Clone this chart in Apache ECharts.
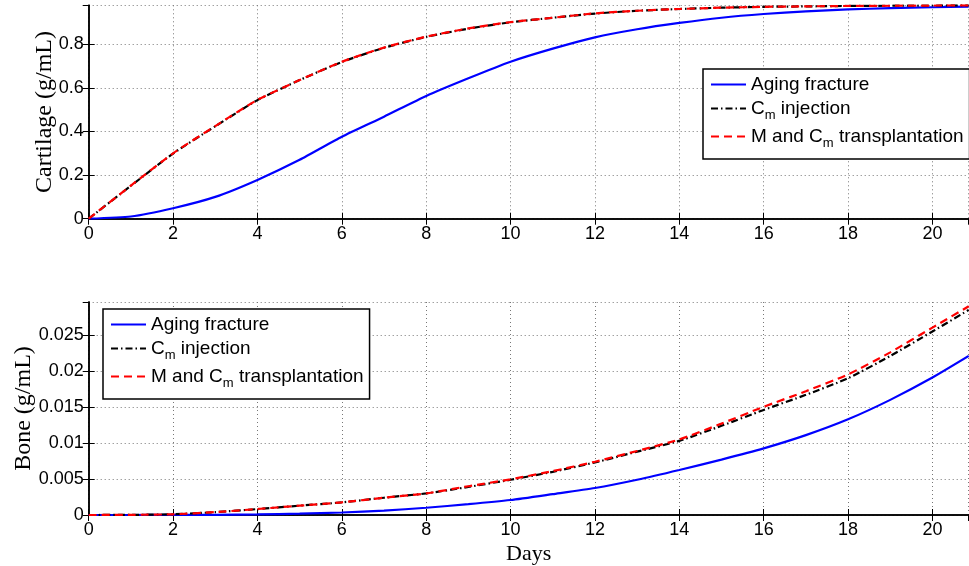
<!DOCTYPE html>
<html>
<head>
<meta charset="utf-8">
<script src="https://cdn.jsdelivr.net/npm/echarts@6/dist/echarts.min.js"></script>
<style>html,body{margin:0;padding:0;background:#fff}#c{width:969px;height:566px}</style>
</head>
<body>
<div id="c"></div>
<script>
var seriesNames = ['Aging fracture', 'Cm injection', 'M and Cm transplantation'];
var days = [0, 1, 2, 3, 4, 5, 6, 7, 8, 9, 10, 11, 12, 13, 14, 15, 16, 17, 18, 19, 20, 20.86];
var cartAging = [0, 0.01, 0.048, 0.10, 0.178, 0.27, 0.376, 0.468, 0.563, 0.644, 0.72, 0.78, 0.832, 0.869, 0.898, 0.922, 0.939, 0.951, 0.96, 0.966, 0.97, 0.973];
var cartInj = [0, 0.151, 0.299, 0.424, 0.544, 0.636, 0.719, 0.784, 0.834, 0.872, 0.901, 0.922, 0.941, 0.954, 0.962, 0.968, 0.972, 0.974, 0.976, 0.977, 0.978, 0.979];
var cartTrans = [0, 0.152, 0.30, 0.425, 0.545, 0.636, 0.72, 0.785, 0.835, 0.873, 0.902, 0.922, 0.942, 0.954, 0.962, 0.968, 0.972, 0.974, 0.976, 0.977, 0.978, 0.979];
var boneAging = [0, 0, 0.00001, 0.00003, 0.00008, 0.00018, 0.00035, 0.0006, 0.00101, 0.0015, 0.00208, 0.0029, 0.00375, 0.0049, 0.00625, 0.0077, 0.00926, 0.0111, 0.0133, 0.016, 0.0191, 0.0221];
var boneInj = [0, 0.00002, 0.0001, 0.0004, 0.00082, 0.0013, 0.00175, 0.0024, 0.0030, 0.0039, 0.0049, 0.006, 0.0073, 0.0088, 0.0103, 0.0124, 0.0146, 0.0167, 0.019, 0.0221, 0.0255, 0.0285];
var boneTrans = [0, 0.00002, 0.0001, 0.0004, 0.00083, 0.0013, 0.00176, 0.0024, 0.0030, 0.0040, 0.00496, 0.0061, 0.0074, 0.0089, 0.0105, 0.0127, 0.01504, 0.0172, 0.01954, 0.0226, 0.02604, 0.0290];
var xTicks = [0, 2, 4, 6, 8, 10, 12, 14, 16, 18, 20];
var cartTicks = [0, 0.2, 0.4, 0.6, 0.8];
var boneTicks = [0, 0.005, 0.01, 0.015, 0.02, 0.025];

var XMAX = 20.86, CMAX = 0.979, BMAX = 0.0296;
var sans = 'Liberation Sans', serif = 'Liberation Serif';

function pairs(v) { return days.map(function (d, i) { return [d, v[i]]; }); }

var frame = {show: true, lineStyle: {color: '#000', width: 1.5}};
var grid = {show: true, lineStyle: {color: '#777', width: 1, type: [1, 3]}};
function xAx(gi, pos, main, name) {
  return {
    type: 'value', gridIndex: gi, position: pos, min: 0, max: XMAX, interval: 2,
    axisLine: frame, axisTick: {show: true, inside: true, length: 6, lineStyle: {color: '#000', width: 1}},
    axisLabel: {show: main, color: '#000', fontFamily: sans, fontSize: 18, margin: 6, showMaxLabel: false,
      formatter: function (v) { return xTicks.indexOf(v) >= 0 ? String(v) : ''; }},
    splitLine: main ? grid : {show: false},
    name: name || '', nameLocation: 'middle', nameGap: 28, nameMoveOverlap: false,
    nameTextStyle: {fontFamily: serif, fontSize: 22, color: '#000'}
  };
}
function yAx(gi, pos, main, max, interval, ticks, name, gap) {
  return {
    type: 'value', gridIndex: gi, position: pos, min: 0, max: max, interval: interval,
    axisLine: frame, axisTick: {show: true, inside: true, length: 6, lineStyle: {color: '#000', width: 1}},
    axisLabel: {show: main, color: '#000', fontFamily: sans, fontSize: 18, margin: 5, showMaxLabel: false,
      formatter: function (v) {
        var r = +v.toFixed(4);
        return ticks.indexOf(r) >= 0 ? String(r) : '';
      }},
    splitLine: main ? grid : {show: false},
    name: name || '', nameLocation: 'middle', nameRotate: 90, nameGap: gap || 30, nameMoveOverlap: false,
    nameTextStyle: {fontFamily: serif, fontSize: 24, color: '#000'}
  };
}
var styles = [
  {color: '#0000ff', width: 2.2, type: 'solid'},
  {color: '#000000', width: 2.2, type: [7, 3, 1.5, 3]},
  {color: '#ff0000', width: 2.2, type: [8, 5]}
];
function mk(name, data, xi, yi, st) {
  return {type: 'line', name: name, data: pairs(data), xAxisIndex: xi, yAxisIndex: yi,
    showSymbol: false, symbol: 'none', smooth: 0.2, lineStyle: st, itemStyle: {color: st.color},
    emphasis: {disabled: true}, animation: false, clip: true};
}
function legendFmt(n) {
  if (n === 'Cm injection') return '{t|C}{s|m}{t| injection}';
  if (n === 'M and Cm transplantation') return '{t|M and C}{s|m}{t| transplantation}';
  return '{t|' + n + '}';
}
var rich = {t: {fontFamily: sans, fontSize: 19, color: '#000', lineHeight: 22}, s: {fontFamily: sans, fontSize: 13, color: '#000', padding: [14, 0, 0, 0]}};
function lg(left, top, w) {
  return {
    orient: 'vertical', left: left, top: top, width: w,
    data: seriesNames, formatter: legendFmt, textStyle: {rich: rich, fontSize: 19},
    itemWidth: 35, itemHeight: 14, itemGap: 5, padding: [6, 6, 9, 7],
    itemStyle: {color: 'rgba(0,0,0,0)', borderWidth: 0, opacity: 0},
    backgroundColor: '#fff', borderColor: '#000', borderWidth: 1.5, borderRadius: 0,
    selectedMode: false
  };
}

var chart = echarts.init(document.getElementById('c'), null, {renderer: 'canvas'});
chart.setOption({
  animation: false,
  grid: [
    {left: 88.7, top: 5.3, width: 880, height: 213.4, show: false, containLabel: false, outerBoundsMode: 'none'},
    {left: 88.7, top: 302, width: 880, height: 213, show: false, containLabel: false, outerBoundsMode: 'none'}
  ],
  xAxis: [xAx(0, 'bottom', true), xAx(0, 'top', false), xAx(1, 'bottom', true, 'Days'), xAx(1, 'top', false)],
  yAxis: [yAx(0, 'left', true, CMAX, 0.2, cartTicks, 'Cartilage (g/mL)', 32), yAx(0, 'right', false, CMAX, 0.2, cartTicks),
          yAx(1, 'left', true, BMAX, 0.005, boneTicks, 'Bone (g/mL)', 53), yAx(1, 'right', false, BMAX, 0.005, boneTicks)],
  legend: [lg(703, 69, 265), lg(103, 309, 266)],
  series: [
    mk(seriesNames[0], cartAging, 0, 0, styles[0]),
    mk(seriesNames[1], cartInj, 0, 0, styles[1]),
    mk(seriesNames[2], cartTrans, 0, 0, styles[2]),
    mk(seriesNames[0], boneAging, 2, 2, styles[0]),
    mk(seriesNames[1], boneInj, 2, 2, styles[1]),
    mk(seriesNames[2], boneTrans, 2, 2, styles[2])
  ]
});
</script>
</body>
</html>
